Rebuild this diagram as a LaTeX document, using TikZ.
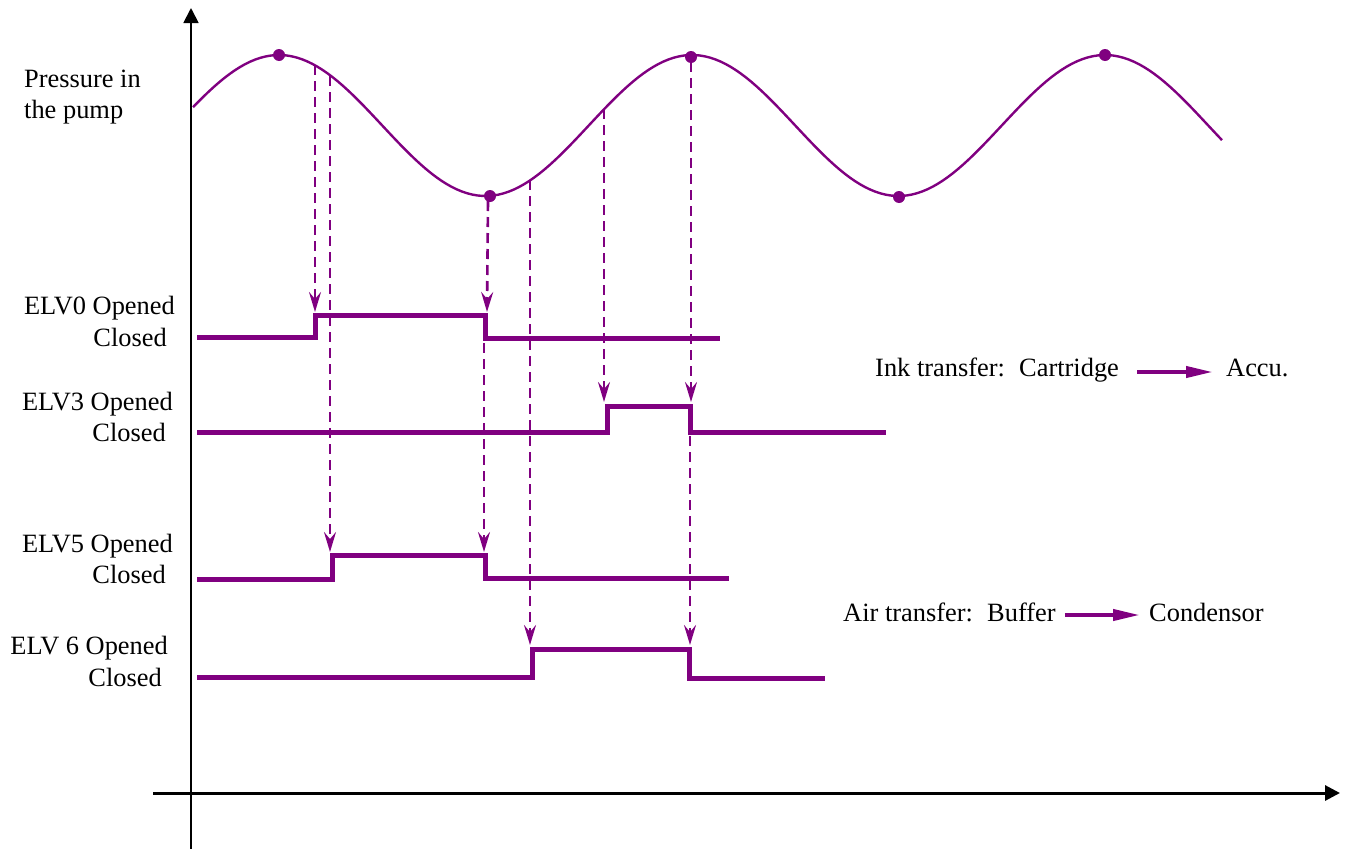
\documentclass[tikz,border=0pt]{standalone}
\usepackage{fontspec}
\setmainfont{Liberation Serif}
\usetikzlibrary{arrows.meta}
\definecolor{valve}{RGB}{128,0,128}
\begin{document}
\begin{tikzpicture}[x=1pt,y=-1pt,
  lbl/.style={inner sep=0pt, font=\fontsize{26.4}{32}\selectfont},
  axis/.style={black, -{Triangle[length=15pt,width=15pt]}},
  pressure/.style={valve, line width=2.4pt},
  signal/.style={valve, line width=5pt, line join=miter},
  trigger/.style={valve, line width=2.6pt, dash pattern=on 10pt off 6pt,
    -{Stealth[length=20pt,width=12pt,inset=7pt]}},
  flow/.style={valve, line width=4pt, -{Triangle[length=27pt,width=11pt]}},
  peak/.style={circle, fill=valve, inner sep=0pt, minimum size=12pt}]
\useasboundingbox (0,0) rectangle (1350,849);

% axes
\coordinate (ybot) at (191,849);
\coordinate (ytop) at (191,8);
\coordinate (xleft) at (153,793);
\coordinate (xright) at (1340,793);
\draw[axis, line width=1.8pt] (ybot) -- (ytop);
\draw[axis, line width=3pt] (xleft) -- (xright);

% pump pressure (period 413)
\draw[pressure] plot[domain=193:1222, samples=200]
  (\x, {125.5-70.5*cos(0.871671*(\x-279))});
\node[peak] (pk1) at (279,55) {};
\node[peak] (pk2) at (490,196) {};
\node[peak] (pk3) at (691,57) {};
\node[peak] (pk4) at (899,197) {};
\node[peak] (pk5) at (1105,55) {};

% labels
\node[lbl, anchor=base west] (press1) at (24,87) {Pressure in};
\node[lbl, anchor=base west] (press2) at (24,118) {the pump};
\node[lbl, anchor=base east] (v0o) at (175,314) {ELV0 Opened};
\node[lbl, anchor=base east] (v0c) at (167,346) {Closed};
\node[lbl, anchor=base east] (v3o) at (173,410) {ELV3 Opened};
\node[lbl, anchor=base east] (v3c) at (166,441) {Closed};
\node[lbl, anchor=base east] (v5o) at (173,552) {ELV5 Opened};
\node[lbl, anchor=base east] (v5c) at (166,583) {Closed};
\node[lbl, anchor=base east] (v6o) at (168,654) {ELV 6 Opened};
\node[lbl, anchor=base east] (v6c) at (162,686) {Closed};

% trigger points on the pressure curve and on the valve edges
\coordinate (s1) at (315,65);   \coordinate (e1) at (315,312);
\coordinate (s2) at (330,76);   \coordinate (e2) at (330,552);
\coordinate (s3) at (488,201);  \coordinate (e3) at (487,312);
\coordinate (s3b) at (484,343); \coordinate (e3b) at (484,552);
\coordinate (s4) at (530,180);  \coordinate (e4) at (530,645);
\coordinate (s5) at (604,109);  \coordinate (e5) at (604,402);
\coordinate (s6) at (691,62);   \coordinate (e6) at (691,402);
\coordinate (s6b) at (690,436); \coordinate (e6b) at (690,645);
\foreach \a/\b in {s1/e1,s2/e2,s3/e3,s3b/e3b,s4/e4,s5/e5,s6/e6,s6b/e6b}
  \draw[trigger] (\a) -- (\b);

% valve states
\draw[signal] (197,337) -| (315,315) -| (485,338) -- (720,338);
\draw[signal] (197,432) -| (607,406) -| (690,432) -- (886,432);
\draw[signal] (197,579) -| (332,555) -| (485,578) -- (729,578);
\draw[signal] (197,677) -| (532,649) -| (689,678) -- (825,678);

% transfers
\node[lbl, anchor=base west] (ink) at (875,376) {Ink transfer:};
\node[lbl, anchor=base west] (cart) at (1019,376) {Cartridge};
\node[lbl, anchor=base west] (accu) at (1226,376) {Accu.};
\draw[flow] ([shift={(18,-4)}]cart.base east) -- ([shift={(-13,-4)}]cart.base east -| accu.west);

\node[lbl, anchor=base west] (air) at (843,621) {Air transfer:};
\node[lbl, anchor=base west] (buf) at (987,621) {Buffer};
\node[lbl, anchor=base west] (cond) at (1149,621) {Condensor};
\draw[flow] ([shift={(9,-6)}]buf.base east) -- ([shift={(-9,-6)}]buf.base east -| cond.west);
\end{tikzpicture}
\end{document}
